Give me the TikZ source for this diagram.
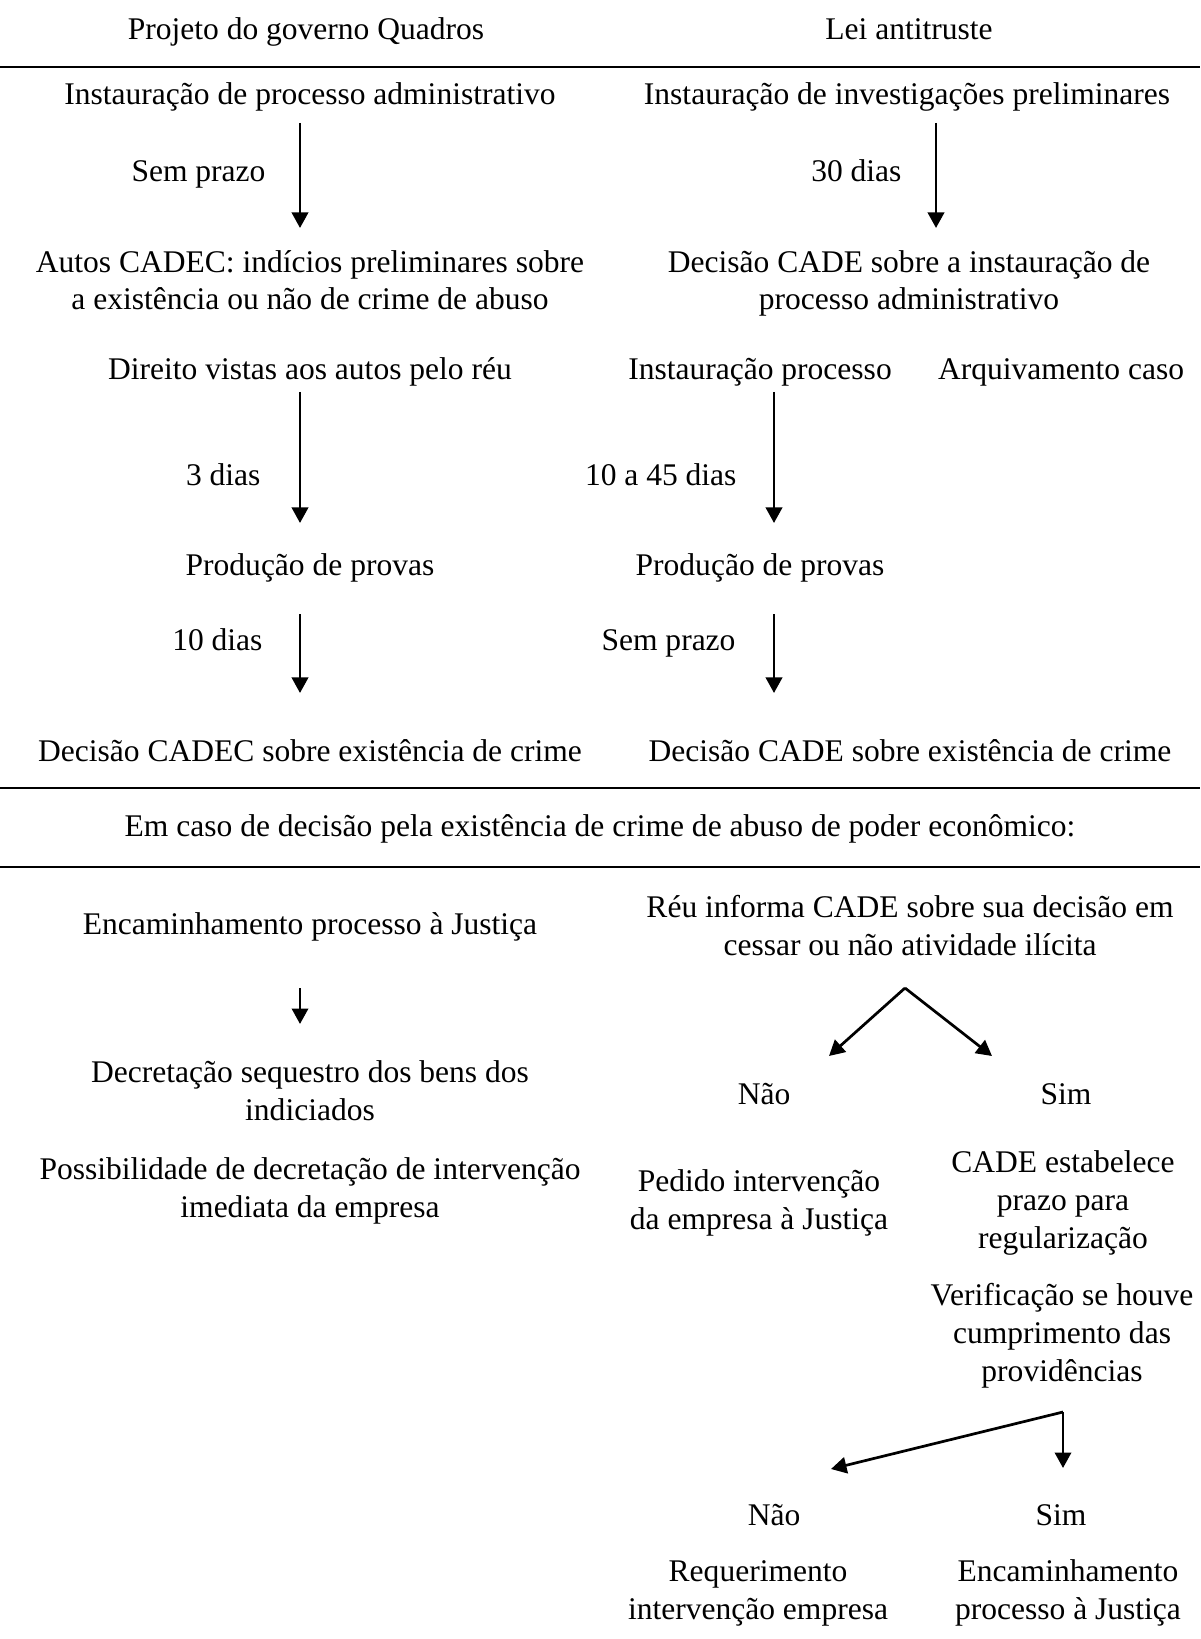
\documentclass[tikz,border=0pt]{standalone}
\usepackage{fontspec}
\setmainfont{Liberation Serif}
\usetikzlibrary{arrows.meta}

\begin{document}
\begin{tikzpicture}[x=0.387pt, y=-0.387pt,
        txt/.style={anchor=base, inner sep=0pt, align=center,
                    font=\fontsize{12.2}{14.6}\selectfont},
        lbl/.style={txt, anchor=base east},
        rule/.style={line width=1.1pt},
        arr/.style={line width=1.05pt, line join=miter,
                    -{Triangle[length=6pt, width=6.3pt]}}]
    \useasboundingbox (0,0) rectangle (1200,1639);

    % header
    \node[txt] (hdQuadros) at (306,40) {Projeto do governo Quadros};
    \node[txt] (hdLei)     at (909,40) {Lei antitruste};
    \coordinate (r1w) at (0,67);   \coordinate (r1e) at (1200,67);
    \draw[rule] (r1w) -- (r1e);

    % left column: Quadros (multi-line nodes sit on their last line)
    \node[txt] (qInst)   at (310,105) {Instauração de processo administrativo};
    \node[txt] (qAutos)  at (310,310) {Autos CADEC: indícios preliminares sobre\\a existência ou não de crime de abuso};
    \node[txt] (qVistas) at (310,380) {Direito vistas aos autos pelo réu};
    \node[txt] (qProv)   at (310,575) {Produção de provas};
    \node[txt] (qDec)    at (310,761) {Decisão CADEC sobre existência de crime};

    \coordinate (qa1) at (300,123);  \coordinate (qa1e) at (300,228);
    \coordinate (qa2) at (300,392);  \coordinate (qa2e) at (300,523);
    \coordinate (qa3) at (300,614);  \coordinate (qa3e) at (300,693);
    \draw[arr] (qa1) -- (qa1e);
    \draw[arr] (qa2) -- (qa2e);
    \draw[arr] (qa3) -- (qa3e);
    \node[lbl] (qSemPrazo) at (266,182) {Sem prazo};
    \node[lbl] (qTres)     at (261,485) {3 dias};
    \node[lbl] (qDez)      at (263,650) {10 dias};

    % right column: lei antitruste
    \node[txt] (lInst) at (907,105) {Instauração de investigações preliminares};
    \node[txt] (lDecI) at (909,310) {Decisão CADE sobre a instauração de\\processo administrativo};
    \node[txt] (lProc) at (760,380) {Instauração processo};
    \node[txt] (lArq)  at (1061,380) {Arquivamento caso};
    \node[txt] (lProv) at (760,575) {Produção de provas};
    \node[txt] (lDec)  at (910,761) {Decisão CADE sobre existência de crime};

    \coordinate (la1) at (936,123);  \coordinate (la1e) at (936,228);
    \coordinate (la2) at (774,392);  \coordinate (la2e) at (774,523);
    \coordinate (la3) at (774,614);  \coordinate (la3e) at (774,693);
    \draw[arr] (la1) -- (la1e);
    \draw[arr] (la2) -- (la2e);
    \draw[arr] (la3) -- (la3e);
    \node[lbl] (lTrinta)   at (902,182) {30 dias};
    \node[lbl] (lDezQuar)  at (737,485) {10 a 45 dias};
    \node[lbl] (lSemPrazo) at (736,650) {Sem prazo};

    % middle band
    \coordinate (r2w) at (0,788);  \coordinate (r2e) at (1200,788);
    \coordinate (r3w) at (0,867);  \coordinate (r3e) at (1200,867);
    \draw[rule] (r2w) -- (r2e);
    \draw[rule] (r3w) -- (r3e);
    \node[txt] (emCaso) at (600,836) {Em caso de decisão pela existência de crime de abuso de poder econômico:};

    % lower left
    \node[txt] (qJust)   at (310,934)  {Encaminhamento processo à Justiça};
    \node[txt] (qSeq)    at (310,1120) {Decretação sequestro dos bens dos\\indiciados};
    \node[txt] (qInterv) at (310,1217) {Possibilidade de decretação de intervenção\\imediata da empresa};
    \coordinate (qa4) at (300,988);  \coordinate (qa4e) at (300,1024);
    \draw[arr] (qa4) -- (qa4e);

    % lower right: first branch
    \node[txt] (lReu)  at (910,955)  {Réu informa CADE sobre sua decisão em\\cessar ou não atividade ilícita};
    \coordinate (br1)  at (905,988);
    \coordinate (br1l) at (829,1056);
    \coordinate (br1r) at (992,1056);
    \draw[arr] (br1) -- (br1l);
    \draw[arr] (br1) -- (br1r);
    \node[txt] (lNaoA) at (764,1104)  {Não};
    \node[txt] (lSimA) at (1066,1104) {Sim};
    \node[txt] (lPed)   at (759,1229)  {Pedido intervenção\\da empresa à Justiça};
    \node[txt] (lPrazo) at (1063,1248) {CADE estabelece\\prazo para\\regularização};
    \node[txt] (lVerif) at (1062,1381) {Verificação se houve\\cumprimento das\\providências};

    % lower right: second branch
    \coordinate (br2)  at (1063,1412);
    \coordinate (br2l) at (831,1469);
    \coordinate (br2d) at (1063,1468);
    \draw[arr] (br2) -- (br2l);
    \draw[arr] (br2) -- (br2d);
    \node[txt] (lNaoB) at (774,1525)  {Não};
    \node[txt] (lSimB) at (1061,1525) {Sim};
    \node[txt] (lReq) at (758,1619)  {Requerimento\\intervenção empresa};
    \node[txt] (lEnc) at (1068,1619) {Encaminhamento\\processo à Justiça};
\end{tikzpicture}
\end{document}
